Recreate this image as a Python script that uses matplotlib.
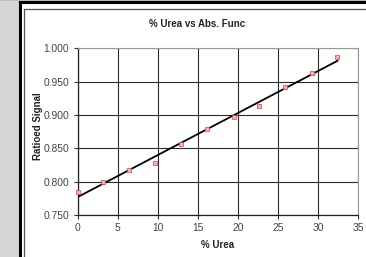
import numpy as np
import matplotlib
matplotlib.use('Agg')
import matplotlib.pyplot as plt
from matplotlib.lines import Line2D
from matplotlib.patches import Rectangle

# data
urea = [0.0, 3.2, 6.45, 9.65, 12.9, 16.15, 19.5, 22.65, 25.9, 29.2, 32.4]
signal = [0.784, 0.800, 0.8175, 0.8285, 0.857, 0.8795, 0.8965, 0.914, 0.9415, 0.9625, 0.9875]
xticks = [0, 5, 10, 15, 20, 25, 30, 35]
yticks = [0.750, 0.800, 0.850, 0.900, 0.950, 1.000]

W, H = 366, 257
fig = plt.figure(figsize=(W / 100, H / 100), dpi=100, facecolor='white')
plt.rcParams['font.family'] = ['Liberation Sans', 'DejaVu Sans']


def px(x, y):
    return x / W, 1 - y / H


# window frame around the chart
fig.patches.append(Rectangle((0, 0), 18.5 / W, 1, transform=fig.transFigure,
                             facecolor='#d6d6d6', edgecolor='none', zorder=0))
fig.patches.append(Rectangle((0, 1 - 1.2 / H), 1, 1.2 / H, transform=fig.transFigure,
                             facecolor='#bdbdbd', edgecolor='none', zorder=0))
for (x0, y0), (x1, y1), c, lw in [
    ((19.5, 2.2), (19.5, H), 'black', 2.2),
    ((19.5, 2.2), (W, 2.2), 'black', 2.2),
    ((23.5, 9), (23.5, H), '#555555', 0.9),
    ((23.5, 9), (W, 9), '#555555', 0.9),
]:
    a, b = px(x0, y0)
    c2, d = px(x1, y1)
    fig.lines.append(Line2D([a, c2], [b, d], transform=fig.transFigure,
                            color=c, lw=lw, zorder=1))

ax = fig.add_axes([77.7 / W, 1 - 215 / H, (358.3 - 77.7) / W, (215 - 48.3) / H])
ax.set_xlim(0, 35)
ax.set_ylim(0.75, 1.0)
ax.set_xticks(xticks)
ax.set_yticks(yticks)
ax.set_yticklabels([f'{v:.3f}' for v in yticks])
ax.grid(True, color='#2a2a2a', lw=0.8)
ax.set_axisbelow(True)
ax.tick_params(labelsize=7.4, colors='#333333', length=3, width=0.8, pad=3)
ax.tick_params(labelcolor='#444444')
for s in ['top', 'right']:
    ax.spines[s].set_color('#9a9a9a')
    ax.spines[s].set_linewidth(0.8)
for s in ['left', 'bottom']:
    ax.spines[s].set_color('#222222')
    ax.spines[s].set_linewidth(0.9)

# linear trend line
k, b = np.polyfit(urea, signal, 1)
xs = np.array([0, max(urea)])
ax.plot(xs, k * xs + b, color='black', lw=1.3, zorder=3)
ax.plot(urea, signal, 's', ms=2.2, mfc='#f6b0b0', mec='#e04040', mew=0.5,
        zorder=4, clip_on=False)

fig.text(197 / W, 1 - 24 / H, '% Urea vs Abs. Func', fontsize=7, fontweight='bold',
         ha='center', va='center', color='#222222')
ax.set_xlabel('% Urea', fontsize=7, fontweight='bold', labelpad=5, color='#222222')
ax.set_ylabel('Ratioed Signal', fontsize=7, fontweight='bold', color='#222222')
ax.yaxis.set_label_coords(-0.125, 0.534)

fig.savefig('out.png', dpi=100, facecolor='white')
